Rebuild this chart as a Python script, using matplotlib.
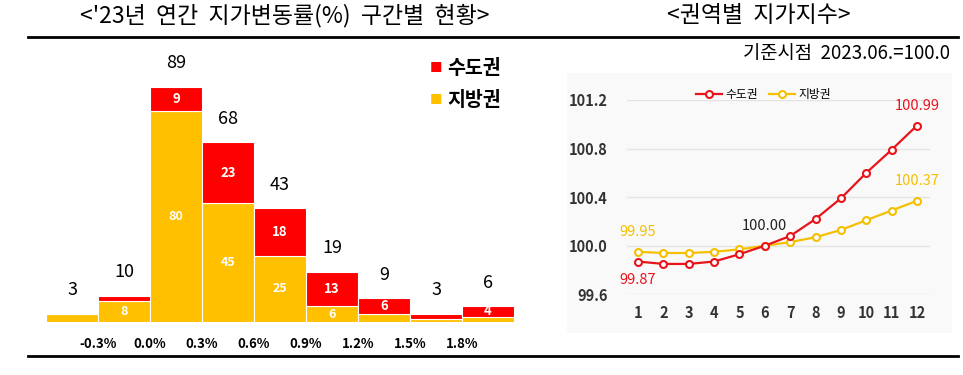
import matplotlib
matplotlib.use('Agg')
import matplotlib.pyplot as plt
import numpy as np
from matplotlib.lines import Line2D

plt.rcParams['font.family'] = ['Noto Sans CJK KR', 'DejaVu Sans']

# left chart data
bin_labels = ['-0.3%', '0.0%', '0.3%', '0.6%', '0.9%', '1.2%', '1.5%', '1.8%']
local_cnt = [3, 8, 80, 45, 25, 6, 3, 1, 2]      # 지방권
capital_cnt = [0, 2, 9, 23, 18, 13, 6, 2, 4]    # 수도권
totals = [3, 10, 89, 68, 43, 19, 9, 3, 6]
local_lbl = [None, '8', '80', '45', '25', '6', None, None, None]
capital_lbl = [None, None, '9', '23', '18', '13', '6', None, '4']

# right chart data
months = list(range(1, 13))
capital_idx = [99.87, 99.85, 99.85, 99.87, 99.93, 100.00, 100.08, 100.22, 100.39, 100.60, 100.79, 100.99]
local_idx = [99.95, 99.94, 99.94, 99.95, 99.97, 100.00, 100.03, 100.07, 100.13, 100.21, 100.29, 100.37]

RED = '#ff0000'
YEL = '#ffc000'
LRED = '#e8141c'
LYEL = '#f5c000'

W, H = 963, 375
fig = plt.figure(figsize=(W / 100, H / 100), dpi=100)


def box(x0, y0, x1, y1):
    # pixel box (top-left origin) -> fig fraction
    return [x0 / W, 1 - y1 / H, (x1 - x0) / W, (y1 - y0) / H]


# titles and rules
fig.text(285 / W, 1 - 16 / H, "<'23년  연간  지가변동률(%)  구간별  현황>", ha='center', va='center', fontsize=16.5)
fig.text(759 / W, 1 - 16 / H, "<권역별  지가지수>", ha='center', va='center', fontsize=16.5)
fig.add_artist(Line2D([28 / W, 958 / W], [1 - 37 / H, 1 - 37 / H], color='black', lw=2))
fig.add_artist(Line2D([28 / W, 958 / W], [1 - 356 / H, 1 - 356 / H], color='black', lw=2))
fig.text(950 / W, 1 - 53 / H, "기준시점  2023.06.=100.0", ha='right', va='center', fontsize=13.5)

# ---- left: stacked bars
ax = fig.add_axes(box(46, 58, 514, 322))
x = np.arange(len(totals))
ax.bar(x, local_cnt, width=1, color=YEL, edgecolor='white', linewidth=0.8)
ax.bar(x, capital_cnt, width=1, bottom=local_cnt, color=RED, edgecolor='white', linewidth=0.8)
ax.set_xlim(-0.5, 8.5)
ax.set_ylim(0, 100)
for i in x:
    ax.annotate(str(totals[i]), (i, totals[i]), xytext=(0, 17), textcoords='offset points',
                ha='center', va='center', fontsize=13, fontweight='medium')
    if local_lbl[i]:
        ax.text(i, local_cnt[i] / 2, local_lbl[i], ha='center', va='center', color='white',
                fontsize=9, fontweight='bold')
    if capital_lbl[i]:
        ax.text(i, local_cnt[i] + capital_cnt[i] / 2, capital_lbl[i], ha='center', va='center',
                color='white', fontsize=9.5, fontweight='bold')
ax.set_xticks(np.arange(len(bin_labels)) + 0.5)
ax.set_xticklabels(bin_labels, fontsize=9.5, fontweight='bold')
ax.tick_params(axis='x', length=0, pad=11)
ax.set_yticks([])
for s in ax.spines.values():
    s.set_visible(False)

# legend (left)
fig.text(436 / W, 1 - 68 / H, '■', color=RED, ha='center', va='center', fontsize=9)
fig.text(447 / W, 1 - 68 / H, '수도권', ha='left', va='center', fontsize=14, fontweight='bold')
fig.text(436 / W, 1 - 100 / H, '■', color=YEL, ha='center', va='center', fontsize=9)
fig.text(447 / W, 1 - 100 / H, '지방권', ha='left', va='center', fontsize=14, fontweight='bold')

# ---- right: index lines
bg = fig.add_axes(box(567, 73, 952, 333))
bg.set_facecolor('#f9f9f9')
bg.set_xticks([])
bg.set_yticks([])
for s in bg.spines.values():
    s.set_visible(False)

ax2 = fig.add_axes(box(627, 100, 930, 294.3))
ax2.patch.set_alpha(0)
ax2.plot(months, capital_idx, color=LRED, lw=1.6, marker='o', ms=5, mfc='white', mec=LRED, mew=1.5, label='수도권', zorder=3)
ax2.plot(months, local_idx, color=LYEL, lw=1.6, marker='o', ms=5, mfc='white', mec=LYEL, mew=1.5, label='지방권', zorder=2)
ax2.set_xlim(0.566, 12.513)
ax2.set_ylim(99.6, 101.2)
ax2.set_yticks([99.6, 100.0, 100.4, 100.8, 101.2])
ax2.set_yticklabels(['99.6', '100.0', '100.4', '100.8', '101.2'], fontsize=10.5, fontweight='bold', color='#333333')
ax2.set_xticks(months)
ax2.set_xticklabels([str(m) for m in months], fontsize=10.5, fontweight='bold', color='#333333')
ax2.tick_params(axis='both', length=0)
ax2.tick_params(axis='y', pad=14)
ax2.tick_params(axis='x', pad=8)
ax2.grid(axis='y', color='#e4e4e4', lw=1)
ax2.set_axisbelow(True)
for s in ax2.spines.values():
    s.set_visible(False)

ax2.annotate('100.99', (12, capital_idx[-1]), xytext=(0, 14), textcoords='offset points',
             ha='center', va='center', color=LRED, fontsize=10.5, fontweight='medium')
ax2.annotate('100.37', (12, local_idx[-1]), xytext=(0, 14), textcoords='offset points',
             ha='center', va='center', color=LYEL, fontsize=10.5, fontweight='medium')
ax2.annotate('99.95', (1, local_idx[0]), xytext=(0, 14), textcoords='offset points',
             ha='center', va='center', color=LYEL, fontsize=10.5, fontweight='medium')
ax2.annotate('99.87', (1, capital_idx[0]), xytext=(0, -13), textcoords='offset points',
             ha='center', va='center', color=LRED, fontsize=10.5, fontweight='medium')
ax2.annotate('100.00', (6, capital_idx[5]), xytext=(0, 14), textcoords='offset points',
             ha='center', va='center', color='#222222', fontsize=10.5, fontweight='medium')

leg = ax2.legend(loc='center', bbox_to_anchor=(0.45, 1.03), ncol=2, frameon=False, fontsize=8.5,
                 handlelength=2.2, columnspacing=0.9, handletextpad=0.3)

fig.savefig('out.png', dpi=100, facecolor='white')
